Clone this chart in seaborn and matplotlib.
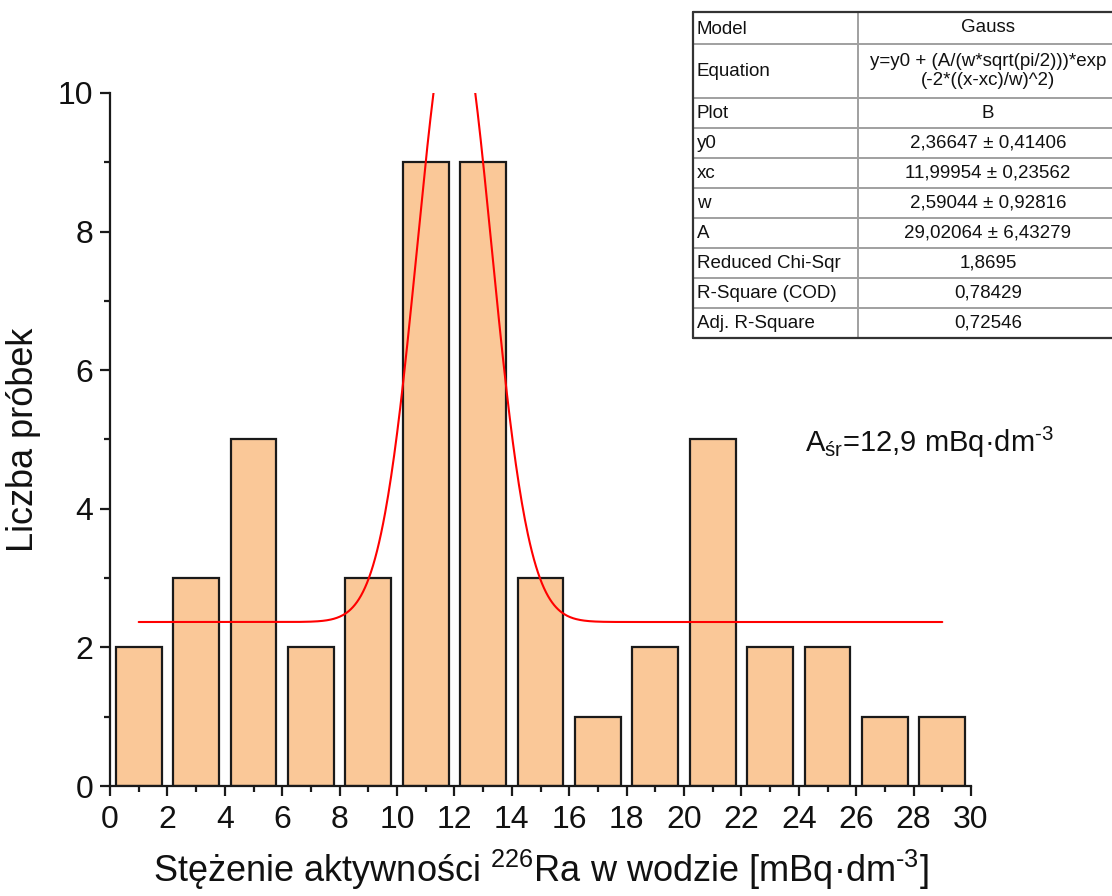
import numpy as np
import pandas as pd
import matplotlib
matplotlib.use("Agg")
import matplotlib.pyplot as plt
import seaborn as sns

# ---- data ----
bin_centers = [1, 3, 5, 7, 9, 11, 13, 15, 17, 19, 21, 23, 25, 27, 29]
counts = [2, 3, 5, 2, 3, 9, 9, 3, 1, 2, 5, 2, 2, 1, 1]

# Gauss fit parameters (from the fit table)
fit_y0 = 2.36647
fit_xc = 11.99954
fit_w = 2.59044
fit_A = 29.02064

table_labels = ["Model", "Equation", "Plot", "y0", "xc", "w", "A",
                "Reduced Chi-Sqr", "R-Square (COD)", "Adj. R-Square"]
table_values = ["Gauss", "y=y0 + (A/(w*sqrt(pi/2)))*exp\n(-2*((x-xc)/w)^2)", "B",
                "2,36647 ± 0,41406", "11,99954 ± 0,23562", "2,59044 ± 0,92816",
                "29,02064 ± 6,43279", "1,8695", "0,78429", "0,72546"]

x_ticks = list(range(0, 31, 2))
y_ticks = [0, 2, 4, 6, 8, 10]

# ---- style ----
sns.set_theme(style="ticks")
plt.rcParams["font.family"] = ["Liberation Sans", "DejaVu Sans"]
plt.rcParams["mathtext.default"] = "regular"

W, H = 1112, 896
fig = plt.figure(figsize=(W / 100, H / 100), dpi=100)
ax = fig.add_axes([110 / W, 1 - 786 / H, (971 - 110) / W, (786 - 93) / H])

df = pd.DataFrame({"x": bin_centers, "n": counts})
sns.barplot(data=df, x="x", y="n", native_scale=True, width=0.8,
            color="#FAC898", saturation=1, edgecolor="#1a1a1a",
            linewidth=1.6, ax=ax, zorder=2)

xf = np.linspace(bin_centers[0], bin_centers[-1], 800)
yf = fit_y0 + (fit_A / (fit_w * np.sqrt(np.pi / 2))) * np.exp(-2 * ((xf - fit_xc) / fit_w) ** 2)
sns.lineplot(x=xf, y=yf, color="#FF0000", linewidth=1.5, ax=ax, zorder=3)

ax.set_xlim(0, 30)
ax.set_ylim(0, 10)
ax.set_xticks(x_ticks)
ax.set_yticks(y_ticks)
ax.set_xticks(np.arange(1, 30, 2), minor=True)
ax.set_yticks(np.arange(1, 10, 2), minor=True)
for s in ["top", "right"]:
    ax.spines[s].set_visible(False)
for s in ["left", "bottom"]:
    ax.spines[s].set_linewidth(1.6)
    ax.spines[s].set_color("#1a1a1a")
ax.tick_params(which="major", direction="out", length=7, width=1.6,
               labelsize=23, color="#1a1a1a", labelcolor="#111111", pad=5)
ax.tick_params(axis="x", which="major", pad=7)
ax.tick_params(which="minor", direction="out", length=4, width=1.6, color="#1a1a1a")

hy = "\u2010"
ax.set_xlabel("Stężenie aktywności $^{226}$Ra w wodzie [mBq·dm$^{" + hy + "3}$]",
              fontsize=26, labelpad=9, color="#111111")
ax.set_ylabel("Liczba próbek", fontsize=26, labelpad=12, color="#111111")

ax.text(24.2, 4.82, "A$_{śr}$=12,9 mBq·dm$^{" + hy + "3}$", fontsize=21,
        ha="left", va="baseline", color="#111111")

# ---- fit table (figure pixel coords) ----
tax = fig.add_axes([0, 0, 1, 1], facecolor="none")
tax.set_xlim(0, W)
tax.set_ylim(H, 0)
tax.axis("off")
row_edges = [12, 44, 98, 128, 158, 188, 218, 248, 278, 308, 338]
x_left, x_mid, x_right = 693, 858, 1118
tax.add_patch(plt.Rectangle((x_left, row_edges[0]), x_right - x_left,
                            row_edges[-1] - row_edges[0], facecolor="white",
                            edgecolor="none", zorder=1))
for ye in row_edges[1:-1]:
    tax.plot([x_left, x_right], [ye, ye], color="#a0a0a0", lw=1.4, zorder=2)
tax.plot([x_mid, x_mid], [row_edges[0], row_edges[-1]], color="#a0a0a0", lw=1.4, zorder=2)
tax.plot([x_left, x_right], [row_edges[0], row_edges[0]], color="#333333", lw=1.6, zorder=3)
tax.plot([x_left, x_right], [row_edges[-1], row_edges[-1]], color="#333333", lw=1.6, zorder=3)
tax.plot([x_left, x_left], [row_edges[0], row_edges[-1]], color="#333333", lw=1.6, zorder=3)
for i, (lab, val) in enumerate(zip(table_labels, table_values)):
    yc = (row_edges[i] + row_edges[i + 1]) / 2
    tax.text(x_left + 4, yc + 1, lab, fontsize=13.5, ha="left", va="center",
             color="#111111", zorder=4)
    tax.text((x_mid + x_right) / 2, yc, val, fontsize=13.5, ha="center", va="center",
             linespacing=1.1, color="#111111", zorder=4)

fig.savefig("out.png", dpi=100)
